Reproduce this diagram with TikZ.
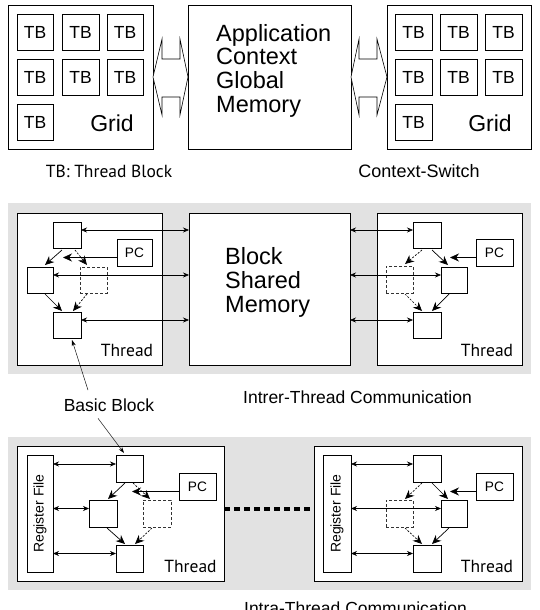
\documentclass[tikz,border=0pt]{standalone}
\usepackage{fontspec}
\setmainfont{Liberation Sans}
\newfontfamily\ptsans{PT Sans}
\usetikzlibrary{arrows.meta}
\definecolor{bgg}{HTML}{E2E2E2}
\newcommand\mkbox[7][]{\node[box,#1,anchor=north west,minimum width={(#5-#3)*1pt},minimum height={(#6-#4)*1pt}] (#2) at (#3,#4) {#7};}
\tikzset{
  box/.style={draw, line width=0.9pt, inner sep=0pt, outer sep=0pt, fill=white},
  dbox/.style={draw=black!80, dash pattern=on 3pt off 2pt, line width=0.6pt, fill=none},
  tbt/.style={font=\fontsize{17.5}{17.5}\selectfont},
  pct/.style={font=\fontsize{13.7}{14}\selectfont},
  bigt/.style={font=\fontsize{23.5}{23.6}\selectfont, align=left, inner sep=0pt},
  gridt/.style={font=\fontsize{23}{23}\selectfont, inner sep=0pt, anchor=base},
  thr/.style={font=\ptsans\fontsize{17.5}{18}\selectfont, inner sep=0pt, anchor=base},
  capt/.style={font=\fontsize{17.5}{18}\selectfont, inner sep=0pt, anchor=base},
  dar/.style={{Stealth[length=6pt,width=5pt]}-{Stealth[length=6pt,width=5pt]}, line width=0.6pt},
  far/.style={-{Stealth[length=9pt,width=8pt]}, line width=0.7pt},
  fard/.style={far, dash pattern=on 2pt off 1.5pt},
  lar/.style={-{Stealth[length=6pt,width=4pt]}, line width=0.45pt},
  bigar/.style={draw, line width=0.6pt, fill=white},
  thickdash/.style={line width=3.2pt, dash pattern=on 6pt off 4pt},
}
\begin{document}
\begin{tikzpicture}[x=1pt,y=-1pt]
\useasboundingbox (0,0) rectangle (540,610);
\clip (0,0) rectangle (540,610);
\fill[white] (0,0) rectangle (540,610);

% ---------------- top ----------------
\mkbox{gl}{8}{5}{153}{149}{}
\mkbox[tbt]{tbl1}{17}{14}{53}{50}{TB}
\mkbox[tbt]{tbl2}{62}{14}{99}{50}{TB}
\mkbox[tbt]{tbl3}{107}{14}{143}{50}{TB}
\mkbox[tbt]{tbl4}{17}{59}{53}{95}{TB}
\mkbox[tbt]{tbl5}{62}{59}{99}{95}{TB}
\mkbox[tbt]{tbl6}{107}{59}{143}{95}{TB}
\mkbox[tbt]{tbl7}{17}{104}{53}{140}{TB}
\node[gridt] (glt) at (112,131.5) {Grid};

\mkbox{app}{188}{5}{351}{149}{}
\node[bigt, anchor=west] (appt) at (216,70.7) {Application\\Context\\Global\\Memory};

\mkbox{gr}{387}{5}{531}{149}{}
\mkbox[tbt]{tbr1}{395}{14}{432}{50}{TB}
\mkbox[tbt]{tbr2}{440}{14}{477}{50}{TB}
\mkbox[tbt]{tbr3}{485}{14}{522}{50}{TB}
\mkbox[tbt]{tbr4}{395}{59}{432}{95}{TB}
\mkbox[tbt]{tbr5}{440}{59}{477}{95}{TB}
\mkbox[tbt]{tbr6}{485}{59}{522}{95}{TB}
\mkbox[tbt]{tbr7}{395}{104}{432}{140}{TB}
\node[gridt] (grt) at (490,131.5) {Grid};

\draw[bigar] (gl.east) -- ([shift={(9,-38)}]gl.east) -- ([shift={(9,-18)}]gl.east)
  -- ([shift={(-8,-18)}]app.west) -- ([shift={(-8,-38)}]app.west) -- (app.west)
  -- ([shift={(-8,38)}]app.west) -- ([shift={(-8,20)}]app.west)
  -- ([shift={(9,20)}]gl.east) -- ([shift={(9,38)}]gl.east) -- cycle;
\draw[bigar] (app.east) -- ([shift={(8,-38)}]app.east) -- ([shift={(8,-18)}]app.east)
  -- ([shift={(-10,-18)}]gr.west) -- ([shift={(-10,-38)}]gr.west) -- (gr.west)
  -- ([shift={(-10,38)}]gr.west) -- ([shift={(-10,20)}]gr.west)
  -- ([shift={(8,20)}]app.east) -- ([shift={(8,38)}]app.east) -- cycle;

\node[thr] (tbkey) at (109,177) {TB: Thread Block};
\node[capt, font=\fontsize{18}{18}\selectfont] (cs) at (419,177) {Context-Switch};

% ---------------- middle ----------------
\fill[bgg] (8,203) rectangle (531,374);
\mkbox{mlt}{17}{213}{162}{365}{}
\mkbox{bsm}{189}{213}{350}{365}{}
\mkbox{mrt}{377}{213}{522}{365}{}
\node[bigt, anchor=west] (bsmt) at (225,282.5) {Block\\Shared\\Memory};

% middle left thread
\mkbox{mlb1}{53}{222}{81}{248}{}
\mkbox{mlb2}{27}{267}{53}{293}{}
\mkbox[dbox]{mld}{80}{267}{107}{293}{}
\mkbox{mlb3}{53}{312}{81}{338}{}
\mkbox[pct]{mlpc}{117}{239}{152}{266}{PC}
\coordinate (mlpct) at (63,257.5);
\draw[dar] ([yshift=5pt]mlb1.east) -- ([yshift=5pt]bsm.west |- mlb1.east);
\draw[dar] ([yshift=5pt]mlb2.east) -- ([yshift=5pt]bsm.west |- mlb2.east);
\draw[dar] ([yshift=5pt]mlb3.east) -- ([yshift=5pt]bsm.west |- mlb3.east);
\draw[far] ([xshift=-5pt,yshift=-2pt]mlb1.south) -- ([xshift=5pt,yshift=2pt]mlb2.north);
\draw[fard] ([xshift=8pt,yshift=-2pt]mlb1.south) -- ([xshift=-6.5pt,yshift=2pt]mld.north);
\draw[far] ([yshift=-5pt]mlpc.west) -- (mlpct);
\draw[far] ([xshift=5pt,yshift=-1pt]mlb2.south) -- ([xshift=-5pt,yshift=1pt]mlb3.north);
\draw[fard] ([xshift=-6.5pt,yshift=-1pt]mld.south) -- ([xshift=6pt,yshift=1pt]mlb3.north);
\node[thr] (mlthr) at (127,356) {Thread};

% middle right thread
\mkbox{mrb1}{413}{222}{441}{248}{}
\mkbox[dbox]{mrd}{386}{266}{413}{293}{}
\mkbox{mrb2}{441}{267}{467}{293}{}
\mkbox{mrb3}{413}{312}{441}{338}{}
\mkbox[pct]{mrpc}{476}{239}{513}{266}{PC}
\coordinate (mrpct) at (450,257.5);
\draw[dar] ([yshift=5pt]bsm.east |- mrb1.west) -- ([yshift=5pt]mrb1.west);
\draw[dar] ([yshift=5pt]bsm.east |- mrb2.west) -- ([yshift=5pt]mrb2.west);
\draw[dar] ([yshift=5pt]bsm.east |- mrb3.west) -- ([yshift=5pt]mrb3.west);
\draw[far] ([xshift=5pt,yshift=-2pt]mrb1.south) -- ([xshift=-6pt,yshift=2pt]mrb2.north);
\draw[fard] ([xshift=-5pt,yshift=-2pt]mrb1.south) -- ([xshift=5.5pt,yshift=2pt]mrd.north);
\draw[far] ([yshift=-5pt]mrpc.west) -- (mrpct);
\draw[fard] ([xshift=5.5pt,yshift=-1pt]mrd.south) -- ([xshift=-5pt,yshift=1pt]mrb3.north);
\draw[far] ([xshift=-5pt,yshift=-1pt]mrb2.south) -- ([xshift=5pt,yshift=1pt]mrb3.north);
\node[thr] (mrthr) at (487,356) {Thread};

\node[capt] (inter) at (357.5,403.5) {Intrer-Thread Communication};
\node[capt] (bb) at (109,411) {Basic Block};

% ---------------- bottom ----------------
\fill[bgg] (8,437) rectangle (531,590);
\mkbox{blt}{17}{446}{224}{581}{}
\mkbox{brt}{314}{446}{522}{581}{}
\draw[thickdash] ([yshift=4.5pt]blt.east) -- ([yshift=4.5pt]brt.west);

% bottom left thread
\mkbox{blrf}{27}{455}{53}{572}{}
\node[rotate=90, font=\fontsize{14}{14}\selectfont, inner sep=0pt] (blrft) at (blrf.center) {Register File};
\mkbox{blb1}{116}{455}{143}{482}{}
\mkbox{blb2}{89}{500}{117}{527}{}
\mkbox[dbox]{bld}{143}{500}{171}{527}{}
\mkbox{blb3}{116}{545}{143}{572}{}
\mkbox[pct]{blpc}{179}{473}{216}{500}{PC}
\coordinate (blpct) at (132,491.5);
\draw[dar] ([yshift=4.5pt]blrf.east |- blb1.west) -- ([yshift=4.5pt]blb1.west);
\draw[dar] ([yshift=5pt]blrf.east |- blb2.west) -- ([yshift=5pt]blb2.west);
\draw[dar] ([yshift=5pt]blrf.east |- blb3.west) -- ([yshift=5pt]blb3.west);
\draw[far] ([xshift=-4.5pt,yshift=-1pt]blb1.south) -- ([xshift=5pt,yshift=1pt]blb2.north);
\draw[fard] ([xshift=3.5pt,yshift=-1pt]blb1.south) -- ([xshift=-7pt,yshift=1pt]bld.north);
\draw[far] ([yshift=-5pt]blpc.west) -- (blpct);
\draw[fard] ([xshift=-5pt,yshift=-1pt]bld.south) -- ([xshift=5.5pt,yshift=1pt]blb3.north);
\draw[far] ([xshift=4pt,yshift=-1pt]blb2.south) -- ([xshift=-4.5pt,yshift=1pt]blb3.north);
\node[thr] (blthr) at (190.5,572) {Thread};

% bottom right thread
\mkbox{brrf}{323}{455}{351}{572}{}
\node[rotate=90, font=\fontsize{14}{14}\selectfont, inner sep=0pt] (brrft) at (brrf.center) {Register File};
\mkbox{brb1}{413}{455}{441}{482}{}
\mkbox[dbox]{brd}{386}{500}{413}{527}{}
\mkbox{brb2}{441}{500}{467}{527}{}
\mkbox{brb3}{413}{545}{441}{572}{}
\mkbox[pct]{brpc}{476}{473}{513}{500}{PC}
\coordinate (brpct) at (450,491.5);
\draw[dar] ([yshift=4.5pt]brrf.east |- brb1.west) -- ([yshift=4.5pt]brb1.west);
\draw[dar] ([yshift=5pt]brrf.east |- brb2.west) -- ([yshift=5pt]brb2.west);
\draw[dar] ([yshift=5pt]brrf.east |- brb3.west) -- ([yshift=5pt]brb3.west);
\draw[far] ([xshift=5pt,yshift=-1pt]brb1.south) -- ([xshift=-6pt,yshift=1pt]brb2.north);
\draw[fard] ([xshift=-5pt,yshift=-1pt]brb1.south) -- ([xshift=5.5pt,yshift=1pt]brd.north);
\draw[far] ([yshift=-5pt]brpc.west) -- (brpct);
\draw[fard] ([xshift=5.5pt,yshift=-1pt]brd.south) -- ([xshift=-5pt,yshift=1pt]brb3.north);
\draw[far] ([xshift=-5pt,yshift=-1pt]brb2.south) -- ([xshift=5pt,yshift=1pt]brb3.north);
\node[thr] (brthr) at (487,572) {Thread};

% basic block pointers
\draw[lar] ([xshift=-21pt,yshift=8pt]bb.north) -- ([xshift=5pt,yshift=-2pt]mlb3.south);
\draw[lar] ([xshift=-11pt,yshift=-7pt]bb.south) -- ([xshift=-5.5pt,yshift=2pt]blb1.north);

\node[capt] (intra) at (355.5,614.5) {Intra-Thread Communication};
\end{tikzpicture}
\end{document}
